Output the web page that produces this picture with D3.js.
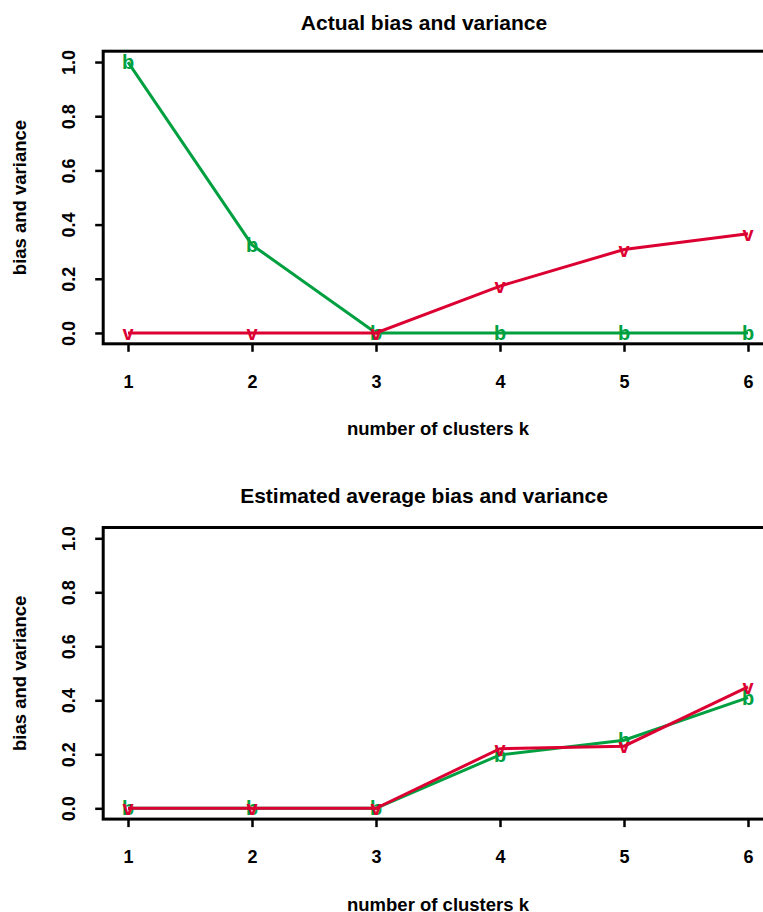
<!DOCTYPE html>
<html><head><meta charset="utf-8">
<script src="https://cdn.jsdelivr.net/npm/d3@7"></script>
<style>body{margin:0;background:#fff}svg{display:block}text{font-family:"Liberation Sans",Arial,sans-serif;font-weight:bold}</style>
</head><body><svg id="c" width="763" height="912"></svg>
<script>
const ks = [1, 2, 3, 4, 5, 6];
const yTicks = [0, 0.2, 0.4, 0.6, 0.8, 1.0];
const titles = ["Actual bias and variance", "Estimated average bias and variance"];
const xTitle = "number of clusters k";
const yTitle = "bias and variance";
const actualBias = [1.0, 0.325, 0.0, 0.0, 0.0, 0.0];
const actualVariance = [0.0, 0.0, 0.0, 0.173, 0.308, 0.366];
const estBias = [0.0, 0.0, 0.0, 0.198, 0.252, 0.41];
const estVariance = [0.0, 0.0, 0.0, 0.221, 0.23, 0.45];
const GREEN = "#00a040", RED = "#dc0032";

const svg = d3.select("#c");
const panels = [
  {title: titles[0], bias: actualBias, variance: actualVariance, top: 51.2, bottom: 343.8, titleY: 22},
  {title: titles[1], bias: estBias, variance: estVariance, top: 527.5, bottom: 819.1, titleY: 495}
];
const x = d3.scaleLinear().domain([0.8, 6.2]).range([103.2, 772.8]);

panels.forEach(p => {
  const y = d3.scaleLinear().domain([-0.04, 1.04]).range([p.bottom, p.top]);
  const g = svg.append("g");
  g.append("rect").attr("x", x.range()[0]).attr("y", p.top)
    .attr("width", x.range()[1] - x.range()[0]).attr("height", p.bottom - p.top)
    .attr("fill", "none").attr("stroke", "#000").attr("stroke-width", 3);
  const xa = g.append("g").attr("transform", `translate(0,${p.bottom})`)
    .call(d3.axisBottom(x).tickValues(ks).tickSize(8).tickSizeOuter(0).tickPadding(23).tickFormat(d3.format("d")));
  xa.select(".domain").remove();
  xa.selectAll("line").attr("stroke-width", 2.5);
  xa.selectAll("text").attr("font-size", 18).attr("fill", "#000").attr("font-family", null);
  const ya = g.append("g").attr("transform", `translate(${x.range()[0]},0)`)
    .call(d3.axisLeft(y).tickValues(yTicks).tickSize(8).tickSizeOuter(0).tickFormat(d3.format(".1f")));
  ya.select(".domain").remove();
  ya.selectAll("line").attr("stroke-width", 2.5);
  ya.selectAll("text").attr("font-size", 18).attr("fill", "#000").attr("font-family", null)
    .attr("transform", "rotate(-90)").attr("x", 0).attr("y", -35).attr("dy", "0.35em")
    .attr("text-anchor", "middle");
  g.append("text").attr("x", 424).attr("y", p.titleY).attr("text-anchor", "middle")
    .attr("dominant-baseline", "central").attr("font-size", 21).text(p.title);
  g.append("text").attr("x", 438).attr("y", p.bottom + 85).attr("text-anchor", "middle")
    .attr("dominant-baseline", "central").attr("font-size", 18.5).text(xTitle);
  g.append("text").attr("transform", `translate(19,${(p.top + p.bottom) / 2}) rotate(-90)`)
    .attr("text-anchor", "middle").attr("dominant-baseline", "central").attr("font-size", 18.5).text(yTitle);

  const line = d3.line().x((d, i) => x(ks[i])).y(d => y(d));
  [[p.bias, GREEN, "b"], [p.variance, RED, "v"]].forEach(([vals, col, ch]) => {
    g.append("path").datum(vals).attr("d", line).attr("fill", "none")
      .attr("stroke", col).attr("stroke-width", 3);
    g.selectAll(null).data(vals).enter().append("text")
      .attr("x", (d, i) => x(ks[i])).attr("y", d => y(d))
      .attr("text-anchor", "middle").attr("dominant-baseline", "central")
      .attr("font-size", 20).attr("fill", col).text(ch);
  });
});
</script></body></html>
